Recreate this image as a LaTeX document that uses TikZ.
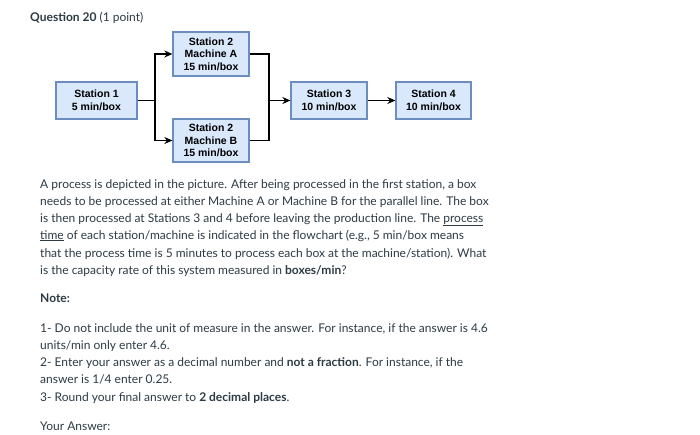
\documentclass[tikz,border=0pt]{standalone}
\usepackage{fontspec}
\setmainfont{Lato}
\newfontfamily\boxfont{Liberation Sans}
\usetikzlibrary{arrows.meta}
\definecolor{boxfill}{HTML}{DAE8FC}
\definecolor{boxline}{HTML}{6C8EBF}
\definecolor{ink}{HTML}{2D3B45}
\tikzset{
  stn/.style={draw=boxline, fill=boxfill, line width=1.3pt, align=center,
    inner sep=1pt, text=black,
    font=\boxfont\bfseries\fontsize{10.5}{12.5}\selectfont},
  txt/.style={anchor=base west, inner sep=0pt, text=ink,
    font=\fontsize{12}{14}\selectfont},
}
\begin{document}
\begin{tikzpicture}[x=1pt, y=-1pt]
      \useasboundingbox[fill=white] (0,0) rectangle (700,434);
      \draw
        (96.5,100.5) node[stn, minimum width=81pt, minimum height=37pt] (s1){Station 1\\5 min/box}
        (211,54) node[stn, minimum width=76pt, minimum height=44pt] (s2a){Station 2\\Machine A\\15 min/box}
        (211,140.5) node[stn, minimum width=76pt, minimum height=43pt] (s2b){Station 2\\Machine B\\15 min/box}
        (329,100.5) node[stn, minimum width=76pt, minimum height=37pt] (s3){Station 3\\10 min/box}
        (433.5,100.5) node[stn, minimum width=75pt, minimum height=37pt] (s4){Station 4\\10 min/box};
      \coordinate (j1) at (155,100.5);
      \coordinate (j2) at (269,100.5);
      \begin{scope}[line width=1.3pt, -{Stealth[length=8pt,width=7pt]}]
        \draw[-] (s1) to (j1);
        \draw (j1) |- (s2a);
        \draw (j1) |- (s2b);
        \draw[-] (s2a) -| (j2);
        \draw[-] (s2b) -| (j2);
        \draw (j2) to (s3);
        \draw (s3) to (s4);
      \end{scope}
      % question text
      \node[txt] (q) at (30,21) {\textbf{Question 20} (1 point)};
      \node[txt] (p1) at (40,188) {A process is depicted in the picture. After being processed in the first station, a box};
      \node[txt] (p2) at (40,205) {needs to be processed at either Machine A or Machine B for the parallel line. The box};
      \node[txt] (p3) at (40,222) {is then processed at Stations 3 and 4 before leaving the production line. The \underline{process}};
      \node[txt] (p4) at (40,239) {\underline{time} of each station/machine is indicated in the flowchart (e.g., 5 min/box means};
      \node[txt] (p5) at (40,257) {that the process time is 5 minutes to process each box at the machine/station). What};
      \node[txt] (p6) at (40,274) {is the capacity rate of this system measured in \textbf{boxes/min}?};
      \node[txt] (n0) at (40,302) {\textbf{Note:}};
      \node[txt] (n1) at (40,332) {1- Do not include the unit of measure in the answer. For instance, if the answer is 4.6};
      \node[txt] (n2) at (40,349) {units/min only enter 4.6.};
      \node[txt] (n3) at (40,366) {2- Enter your answer as a decimal number and \textbf{not a fraction}. For instance, if the};
      \node[txt] (n4) at (40,383) {answer is 1/4 enter 0.25.};
      \node[txt] (n5) at (40,401) {3- Round your final answer to \textbf{2 decimal places}.};
      \node[txt] (ya) at (40,430) {Your Answer:};
    \end{tikzpicture}
\end{document}
